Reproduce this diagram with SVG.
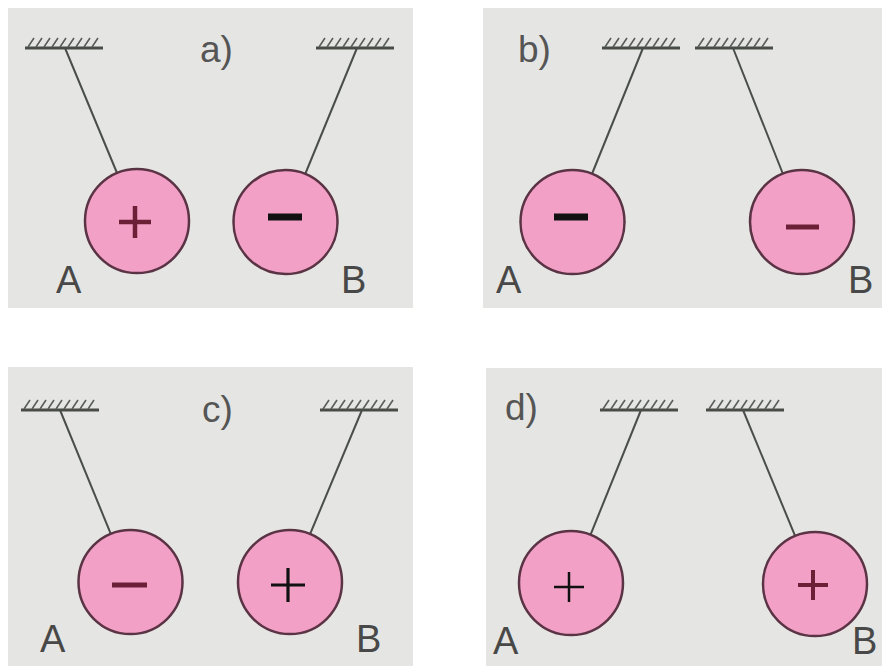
<svg xmlns="http://www.w3.org/2000/svg" xmlns:xlink="http://www.w3.org/1999/xlink" width="882" height="666" viewBox="0 0 882 666">
<style>
.panel{fill:#e5e6e3}
.ball{fill:#f3a0c6;stroke:#5a3344;stroke-width:2.5}
.str{stroke:#4a4e4a;stroke-width:2;fill:none}
.lbl{font-family:"Liberation Sans",Arial,sans-serif;font-size:38px;fill:#484848}
.ttl{font-family:"Liberation Sans",Arial,sans-serif;font-size:37px;fill:#555555}
.sgnM{stroke:#6b2038;fill:none}
.sgnK{stroke:#111111;fill:none}
.hb{stroke:#484c46;stroke-width:3}
.hm{stroke:#5a5e58;stroke-width:1.6}
</style>
<defs>
<g id="hatch">
<line class="hb" x1="0" y1="0" x2="78" y2="0"/>
<path class="hm" d="M3,-1 l6,-9 M11,-1 l6,-9 M19,-1 l6,-9 M27,-1 l6,-9 M35,-1 l6,-9 M43,-1 l6,-9 M51,-1 l6,-9 M59,-1 l6,-9 M67,-1 l6,-9"/>
</g>
</defs>
<rect width="882" height="666" fill="#ffffff"/>
<rect class="panel" x="8" y="8" width="405" height="300"/>
<rect class="panel" x="483" y="8" width="399" height="300"/>
<rect class="panel" x="8" y="367" width="405" height="299"/>
<rect class="panel" x="486" y="368" width="396" height="298"/>

<g id="supports">
<use xlink:href="#hatch" x="25" y="48"/>
<use xlink:href="#hatch" x="316" y="48"/>
<use xlink:href="#hatch" x="602" y="48"/>
<use xlink:href="#hatch" x="695" y="48"/>
<use xlink:href="#hatch" x="21" y="410"/>
<use xlink:href="#hatch" x="320" y="410"/>
<use xlink:href="#hatch" x="600" y="410"/>
<use xlink:href="#hatch" x="706" y="410"/>
</g>

<g id="connectors">
<line class="str" x1="65" y1="48" x2="137" y2="221"/>
<line class="str" x1="357" y1="48" x2="285.5" y2="222"/>
<line class="str" x1="643" y1="48" x2="572.5" y2="222"/>
<line class="str" x1="733" y1="48" x2="802" y2="222"/>
<line class="str" x1="60" y1="410" x2="130.5" y2="582"/>
<line class="str" x1="362" y1="410" x2="290" y2="582"/>
<line class="str" x1="641" y1="410" x2="571" y2="583"/>
<line class="str" x1="743" y1="410" x2="815" y2="584"/>
</g>

<g id="titles">
<text class="ttl" x="200" y="62">a)</text>
<text class="ttl" x="518" y="62">b)</text>
<text class="ttl" x="202" y="422">c)</text>
<text class="ttl" x="505" y="420">d)</text>
</g>

<g id="a-A">
<circle class="ball" cx="137" cy="221" r="52"/>
<path class="sgnM" stroke-width="4.5" d="M119,222 H151 M135,206 V238"/>
<text class="lbl" x="56" y="293">A</text>
</g>
<g id="a-B">
<circle class="ball" cx="285.5" cy="222" r="52"/>
<path class="sgnK" stroke-width="7" d="M268,217 H302"/>
<text class="lbl" x="341" y="293">B</text>
</g>

<g id="b-A">
<circle class="ball" cx="572.5" cy="222" r="52"/>
<path class="sgnK" stroke-width="7" d="M554,217 H588"/>
<text class="lbl" x="496" y="293">A</text>
</g>
<g id="b-B">
<circle class="ball" cx="802" cy="222" r="52"/>
<path class="sgnM" stroke-width="5" d="M786,227 H819"/>
<text class="lbl" x="848" y="293">B</text>
</g>

<g id="c-A">
<circle class="ball" cx="130.5" cy="582" r="52"/>
<path class="sgnM" stroke-width="5" d="M112,585 H147"/>
<text class="lbl" x="40" y="652">A</text>
</g>
<g id="c-B">
<circle class="ball" cx="290" cy="582" r="52"/>
<path class="sgnK" stroke-width="3.2" d="M271,585 H305 M288,568 V602"/>
<text class="lbl" x="356" y="652">B</text>
</g>

<g id="d-A">
<circle class="ball" cx="571" cy="583" r="52"/>
<path class="sgnK" stroke-width="2.5" d="M554,587 H584 M569,572 V602"/>
<text class="lbl" x="493" y="654">A</text>
</g>
<g id="d-B">
<circle class="ball" cx="815" cy="584" r="52"/>
<path class="sgnM" stroke-width="4" d="M798,585 H828 M813,570 V600"/>
<text class="lbl" x="852" y="654">B</text>
</g>
</svg>
